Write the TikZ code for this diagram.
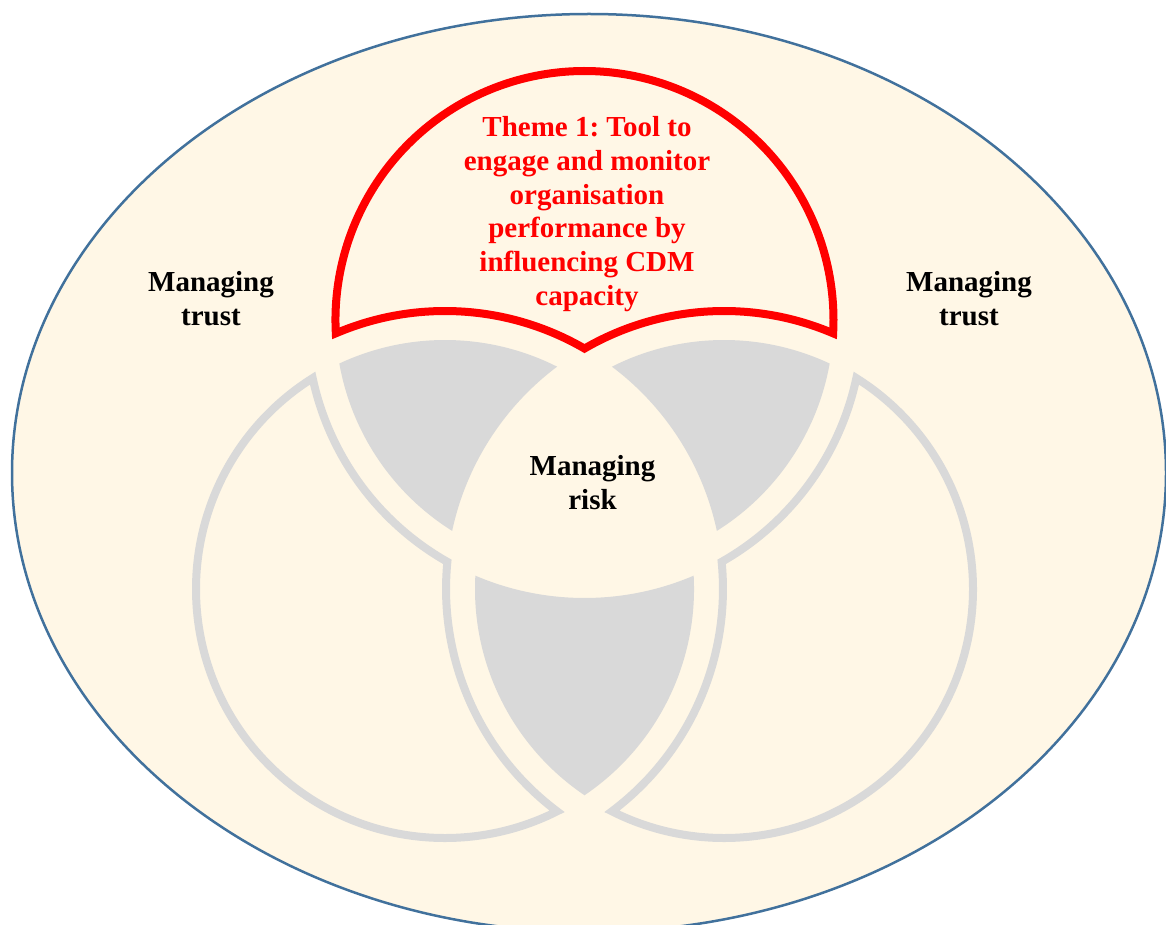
\documentclass[tikz,border=0pt]{standalone}
\usepackage{fontspec}
\setmainfont{Liberation Serif}
\frenchspacing
\definecolor{cream}{HTML}{FFF7E6}
\definecolor{rimblue}{HTML}{41719C}
\definecolor{lensgray}{HTML}{D9D9D9}
\definecolor{themered}{HTML}{FF0000}
\begin{document}
\begin{tikzpicture}[x=1pt,y=-1pt,
  label/.style={inner sep=0pt, align=center,
    font=\bfseries\fontsize{29}{33.8}\selectfont},
  outline/.style={draw=lensgray, line width=8pt, line join=miter},
  themeline/.style={draw=themered, line width=8pt, line join=miter},
  lens/.style={fill=lensgray}]
\useasboundingbox (0,0) rectangle (1166,925);
\clip (0,0) rectangle (1166,925);

% outer field
\filldraw[fill=cream, draw=rimblue, line width=2.5pt] (589,473) ellipse [x radius=577, y radius=459];

% circle centres: top (584.5,320), left (445,589), right (724,589);
% inner radius 249, offset radius 278

% grey overlap lenses
\fill[lens] (339.33,363.53)
  arc[start angle=244.89, end angle=296.76, radius=249]
  arc[start angle=233.1, end angle=192.06, radius=278]
  arc[start angle=122.11, end angle=169.93, radius=249] -- cycle;
\fill[lens] (829.67,363.53)
  arc[start angle=-64.89, end angle=-116.76, radius=249]
  arc[start angle=-53.1, end angle=-12.06, radius=278]
  arc[start angle=57.89, end angle=10.07, radius=249] -- cycle;
\fill[lens] (584.5,795.25)
  arc[start angle=124.07, end angle=183.07, radius=249]
  arc[start angle=113.12, end angle=66.88, radius=278]
  arc[start angle=-3.07, end angle=55.93, radius=249] -- cycle;

% left circle, own part (outline starts and ends on the smooth outer arc)
\draw[outline] (196,589)
  arc[start angle=180, end angle=63.24, radius=249]
  arc[start angle=126.9, end angle=185.61, radius=278]
  arc[start angle=119.56, end angle=167.94, radius=278]
  arc[start angle=237.89, end angle=178, radius=249];

% right circle, own part
\draw[outline] (973,589)
  arc[start angle=0, end angle=116.76, radius=249]
  arc[start angle=53.1, end angle=-5.61, radius=278]
  arc[start angle=60.44, end angle=12.06, radius=278]
  arc[start angle=-57.89, end angle=2, radius=249];

% top circle, own part (theme)
\draw[themeline] (584.5,71)
  arc[start angle=270, end angle=363.07, radius=249]
  arc[start angle=-66.88, end angle=-120.12, radius=278]
  arc[start angle=-59.88, end angle=-113.12, radius=278]
  arc[start angle=176.93, end angle=272, radius=249];

% labels
\node[label, text=themered] (theme) at (587,214)
  {Theme 1: Tool to\\engage and monitor\\organisation\\performance by\\influencing CDM\\capacity};
\node[label] (trustL) at (211,299) {Managing\\trust};
\node[label] (trustR) at (969,299) {Managing\\trust};
\node[label] (risk) at (592.5,482.5) {Managing\\risk};
\end{tikzpicture}
\end{document}
